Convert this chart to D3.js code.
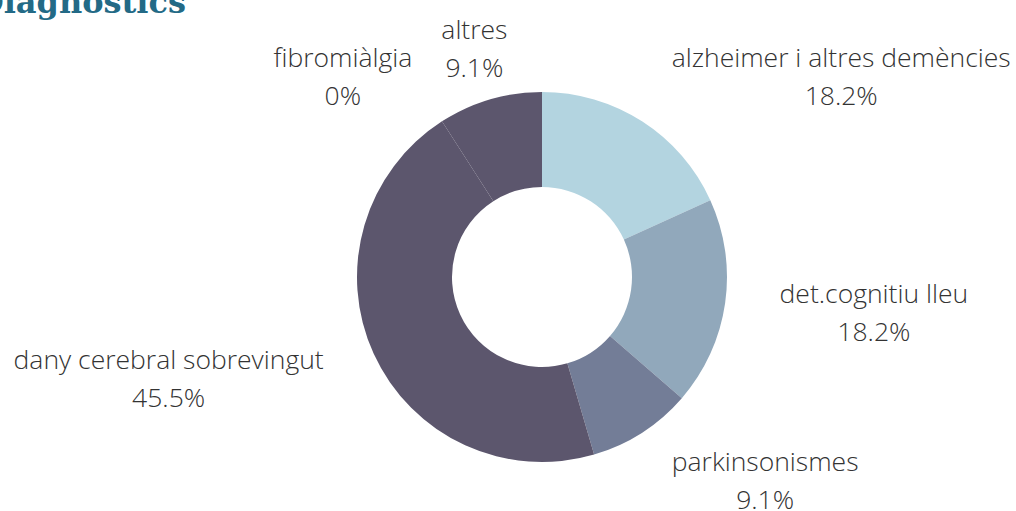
<!DOCTYPE html>
<html>
<head>
<meta charset="utf-8">
<script src="https://cdn.jsdelivr.net/npm/d3@7"></script>
<style>
  body { margin: 0; background: #fff; }
  svg { display: block; }
</style>
</head>
<body>
<div id="donut"></div>
<script>
// chart data
var categories = ["alzheimer i altres demències", "det.cognitiu lleu", "parkinsonismes",
                  "dany cerebral sobrevingut", "fibromiàlgia", "altres"];
var counts = [2, 2, 1, 5, 0, 1];
var sliceColors = ["#b3d4e0", "#91a8bb", "#737d97", "#5c566d", "#5c566d", "#5c566d"];

var width = 1016, height = 511;
var cx = 542, cy = 277,
    outerR = 185, innerR = 90, labelR = 240,
    lineH = 38;

var total = d3.sum(counts);
var data = categories.map(function (c, i) {
  return {name: c, value: counts[i], color: sliceColors[i]};
});

var svg = d3.select("#donut")
  .append("svg")
    .attr("width", width)
    .attr("height", height);

// title, partly off the top of the frame
svg.append("text")
  .attr("x", 186)
  .attr("y", 13)
  .attr("text-anchor", "end")
  .style("font-family", "'DejaVu Serif', serif")
  .style("font-weight", "bold")
  .style("font-size", "32px")
  .style("fill", "#236a86")
  .text("Diagnòstics");

var pie = d3.pie().sort(null).value(function (d) { return d.value; });
var arc = d3.arc().innerRadius(innerR).outerRadius(outerR);

var g = svg.append("g")
  .attr("transform", "translate(" + cx + "," + cy + ")");

var arcs = pie(data);

g.selectAll("path")
  .data(arcs)
  .enter()
  .append("path")
    .attr("d", arc)
    .style("fill", function (d) { return d.data.color; });

var fmt = function (v) {
  var p = v / total * 100;
  return (p === 0 ? "0" : d3.format(".1f")(p)) + "%";
};

// labels: block placed on a ring around the donut
var labels = g.selectAll("g.lbl")
  .data(arcs)
  .enter()
  .append("g")
    .attr("class", "lbl");

labels.each(function (d) {
  var a = (d.startAngle + d.endAngle) / 2;
  var lx = labelR * Math.sin(a), ly = -labelR * Math.cos(a);
  var sel = d3.select(this);
  var lines = [d.data.name, fmt(d.data.value)];
  var t = sel.selectAll("text")
    .data(lines)
    .enter()
    .append("text")
      .attr("text-anchor", "middle")
      .attr("y", function (s, i) { return ly - lineH / 2 + i * lineH + 11; })
      .style("font-family", "'Open Sans', sans-serif")
      .style("font-weight", 300)
      .style("font-size", "26.5px")
      .style("fill", "#333")
      .text(function (s) { return s; });
  var w = d3.max(t.nodes(), function (n) { return n.getComputedTextLength(); });
  var s = Math.sin(a), x;
  if (s > 0.4) x = lx + w / 2;
  else if (s < -0.4) x = lx - w / 2;
  else x = lx;
  t.attr("x", x);
});
</script>
</body>
</html>
